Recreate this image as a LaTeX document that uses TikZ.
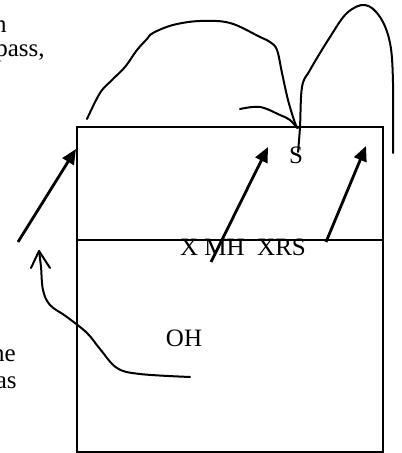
\documentclass[tikz,border=0pt]{standalone}
\usepackage{fontspec}
\setmainfont{Liberation Serif}
\usetikzlibrary{positioning,calc,arrows.meta}
\tikzstyle{lbl}=[inner sep=0pt, font=\fontsize{12.5}{14}\selectfont]
\tikzstyle{pen}=[line width=1pt, line cap=round, line join=round]
\tikzstyle{arr}=[line width=1.4pt, -{Triangle[length=7.5pt,width=6.5pt]}]
\begin{document}
\begin{tikzpicture}[x=0.5pt,y=-0.5pt]
	\useasboundingbox (0,0) rectangle (401,453);
	\clip (0,0) rectangle (401,453);
	% box and divider
	\coordinate (tl) at (77,127);
	\coordinate (br) at (383,452);
	\coordinate (ml) at (77,240);
	\coordinate (mr) at (383,240);
	\draw[line width=1pt] (tl) rectangle (br);
	\draw[line width=1pt] (ml) -- (mr);
	% texts
	\node[lbl] (S) at (296,155) {S};
	\node[lbl] (XMH) at (243,247) {X MH\ \ XRS};
	\node[lbl] (OH) at (184,338) {OH};
	\node[lbl, anchor=base east] (t1) at (7,33) {n};
	\node[lbl, anchor=base east] (t2) at (45,57) {pass,};
	\node[lbl, anchor=base east] (t3) at (16,361) {ne};
	\node[lbl, anchor=base east] (t4) at (17,388) {as};
	% straight arrows
	\coordinate (a1) at (18,242);  \coordinate (b1) at (76,149);
	\coordinate (a2) at (211,262); \coordinate (b2) at (268,147);
	\coordinate (a3) at (326,242); \coordinate (b3) at (366,146);
	\draw[arr] (a1) -- (b1);
	\draw[arr] (a2) -- (b2);
	\draw[arr] (a3) -- (b3);
	% hand drawn lines
	\draw[pen] plot[smooth, tension=0.6] coordinates {(87,119) (100,93) (112,80) (125,67) (137,50) (147,39) (153,33) (173,25) (200,21) (230,23) (260,37) (270,42) (277,50) (282,73) (288,100) (295,123) (298,128)};
	\draw[pen] plot[smooth, tension=0.6] coordinates {(240,109) (260,107) (280,115) (290,120) (297,128)};
	\draw[pen] plot[smooth, tension=0.6] coordinates {(298,152) (300,127) (302,87) (310,70) (330,37) (347,13) (365,5) (380,17) (390,43) (393,83) (393,153)};
	\coordinate (tip) at (39,251);
	\draw[pen] plot[smooth, tension=0.6] coordinates {(190,377) (140,374) (117,368) (100,349) (87,333) (67,317) (50,305) (43,290) (41,267) (tip)};
	\draw[pen] (31,268) -- (tip) -- (50,268);
\end{tikzpicture}
\end{document}
